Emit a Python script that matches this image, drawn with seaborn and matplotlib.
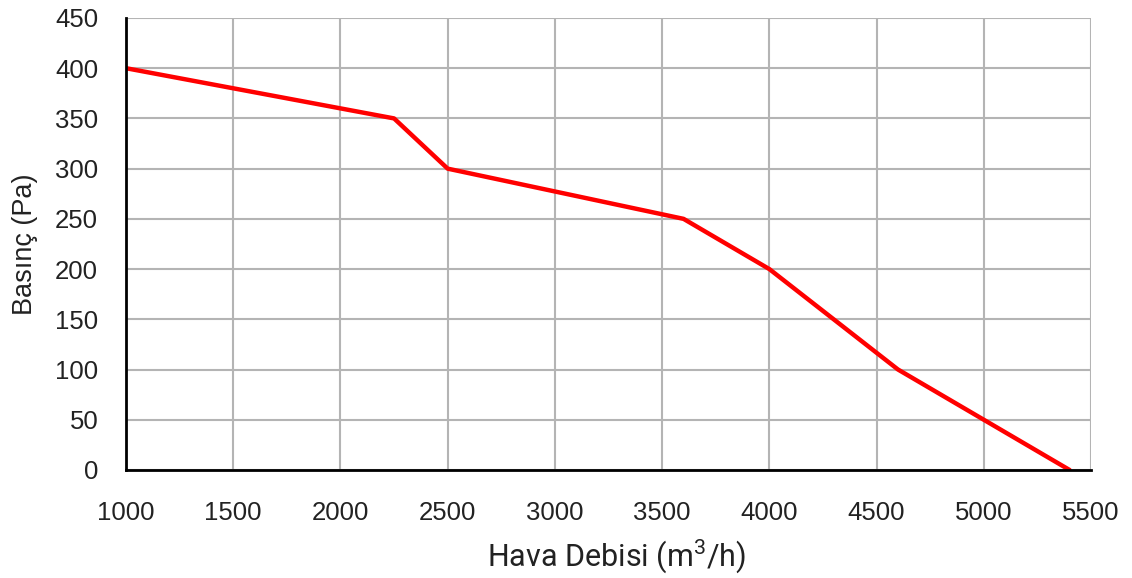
import matplotlib
matplotlib.use('Agg')
import matplotlib.pyplot as plt
import seaborn as sns
import pandas as pd

# Fan curve values
debi = [1000, 2250, 2500, 3600, 4000, 4600, 5000, 5400]
basinc = [400, 350, 300, 250, 200, 100, 50, 0]
x_ticks = [1000, 1500, 2000, 2500, 3000, 3500, 4000, 4500, 5000, 5500]
y_ticks = [0, 50, 100, 150, 200, 250, 300, 350, 400, 450]

df = pd.DataFrame({'debi': debi, 'basinc': basinc})

sns.set_style("white")
plt.rcParams['font.family'] = ['Liberation Sans', 'DejaVu Sans']
plt.rcParams['mathtext.fontset'] = 'custom'
plt.rcParams['mathtext.rm'] = 'Roboto'

fig = plt.figure(figsize=(11.32, 5.78), dpi=100)
ax = fig.add_axes([0.1113, 0.1869, 0.8525, 0.782])

sns.lineplot(data=df, x='debi', y='basinc', color='#ff0000', linewidth=3.2, ax=ax)

ax.set_xlim(1000, 5500)
ax.set_ylim(0, 450)
ax.set_xticks(x_ticks)
ax.set_yticks(y_ticks)
ax.grid(True, color='#b4b4b4', linewidth=1.5)
ax.set_axisbelow(True)
for s in ['top', 'right']:
    ax.spines[s].set_visible(False)
for s in ['left', 'bottom']:
    ax.spines[s].set_color('black')
    ax.spines[s].set_linewidth(2)
    ax.spines[s].set_zorder(5)
ax.tick_params(axis='both', length=0, labelsize=18.5, colors='#222222')
ax.tick_params(axis='x', pad=22)
ax.tick_params(axis='y', pad=20)

ax.set_xlabel('Hava Debisi (m$^3$/h)', fontsize=22, family='Roboto', color='#222222')
ax.xaxis.set_label_coords(0.508, -0.148)
ax.set_ylabel('Basınç (Pa)', fontsize=19.5, color='#222222', labelpad=12)

plt.savefig('out.png', dpi=100)
